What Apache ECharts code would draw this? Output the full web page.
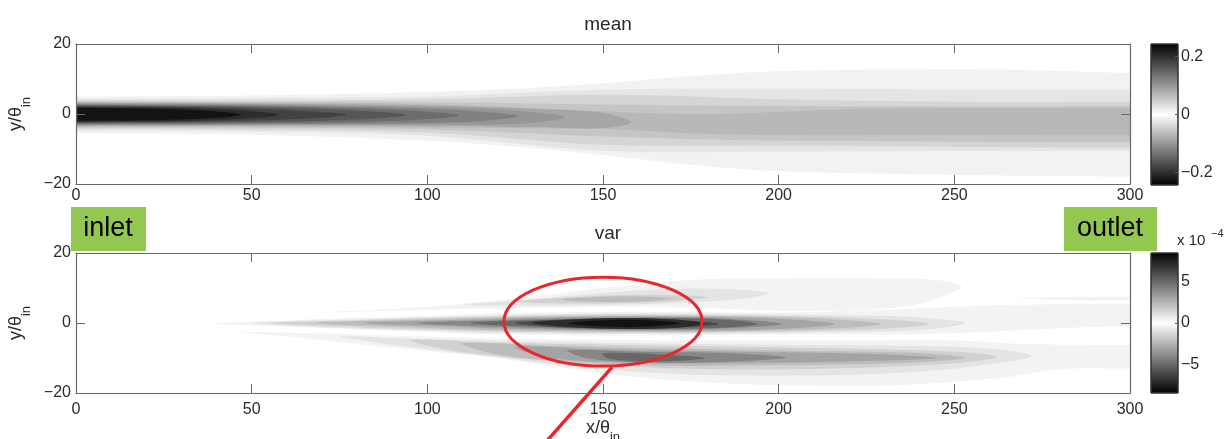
<!DOCTYPE html>
<html>
<head>
<meta charset="utf-8">
<script src="https://cdn.jsdelivr.net/npm/echarts@6/dist/echarts.min.js"></script>
<style>
  html, body { margin: 0; padding: 0; background: #ffffff; }
  #chart { width: 1226px; height: 439px; }
</style>
</head>
<body>
<div id="chart"></div>
<script>
// Filled contours: each band is a contour level and the closed contour line
// (points in x/theta_in, y/theta_in) that bounds the region at or above it.

// Mean field levels, lowest first
const meanLevels = [0.012, 0.025, 0.04, 0.055, 0.068, 0.085, 0.10, 0.12, 0.14, 0.16, 0.18, 0.20, 0.225];
const meanContours = [
  [[-6, 5.0], [0, 5.0], [50, 5.3], [100, 6.3], [130, 7.5], [150, 8.8], [175, 10.8], [200, 12.2], [250, 12.8], [280, 12.3], [300, 11.7], [306, 11.6],
   [306, -17.9], [300, -17.9], [250, -17.4], [200, -16.3], [175, -14.5], [150, -11.7], [130, -9.8], [100, -7.6], [50, -5.9], [0, -5.4], [-6, -5.4]],
  [[-6, 4.3], [0, 4.3], [50, 4.5], [100, 5.0], [150, 6.9], [200, 7.3], [250, 7.0], [300, 6.9], [306, 6.9],
   [306, -10.5], [300, -10.5], [250, -10.6], [200, -10.8], [150, -10.5], [100, -6.2], [50, -5.0], [0, -4.7], [-6, -4.7]],
  [[-6, 3.9], [0, 3.9], [50, 3.9], [100, 4.2], [150, 5.5], [200, 4.2], [250, 3.5], [300, 3.5], [306, 3.5],
   [306, -9.6], [300, -9.6], [250, -9.4], [200, -9.0], [150, -8.8], [100, -5.3], [50, -4.4], [0, -4.2], [-6, -4.2]],
  [[-6, 3.6], [0, 3.6], [50, 3.5], [100, 3.4], [150, 2.7], [200, 2.3], [250, 2.2], [300, 2.3], [306, 2.3],
   [306, -8.0], [300, -8.0], [250, -7.9], [200, -7.6], [150, -6.4], [100, -4.4], [50, -3.9], [0, -3.9], [-6, -3.9]],
  [[-6, 3.4], [0, 3.4], [50, 3.2], [100, 2.8], [150, 0.8], [175, 0.0], [200, 0.6], [225, 1.5], [300, 1.7], [306, 1.7],
   [306, -6.1], [300, -6.1], [250, -6.0], [200, -6.0], [175, -5.5], [150, -4.3], [100, -3.9], [50, -3.6], [0, -3.6], [-6, -3.6]],
  [[-6, 3.2], [0, 3.2], [50, 3.0], [100, 2.4], [130, 1.5], [150, 0.3], [158, -2.3], [150, -4.0], [130, -3.7], [100, -3.4], [50, -3.3], [0, -3.4], [-6, -3.4]],
  [[-6, 3.0], [0, 3.0], [50, 2.8], [100, 2.0], [125, 1.0], [139, -0.9], [125, -2.8], [100, -3.0], [50, -3.1], [0, -3.2], [-6, -3.2]],
  [[-6, 2.8], [0, 2.8], [50, 2.5], [100, 1.5], [116, 0.6], [126, -0.6], [116, -2.0], [100, -2.6], [50, -2.9], [0, -3.0], [-6, -3.0]],
  [[-6, 2.6], [0, 2.6], [50, 2.2], [90, 1.2], [109, -0.4], [90, -2.0], [50, -2.6], [0, -2.8], [-6, -2.8]],
  [[-6, 2.4], [0, 2.4], [50, 1.9], [80, 0.9], [94, -0.3], [80, -1.6], [50, -2.3], [0, -2.6], [-6, -2.6]],
  [[-6, 2.2], [0, 2.2], [40, 1.8], [66, 0.8], [77, -0.2], [66, -1.3], [40, -2.1], [0, -2.4], [-6, -2.4]],
  [[-6, 2.0], [0, 2.0], [30, 1.7], [50, 0.8], [58, -0.2], [50, -1.2], [30, -2.0], [0, -2.2], [-6, -2.2]],
  [[-6, 1.7], [0, 1.7], [25, 1.4], [40, 0.7], [47, -0.2], [40, -1.1], [25, -1.7], [0, -1.9], [-6, -1.9]]
];

// Variance field levels (units of 1e-4), lowest first
const varLevels = [0.4, 0.4, 0.4, 0.4, 0.9, 0.9, 0.9, 1.5, 1.5, 1.5, 2.2, 2.2, 2.2,
                   3.0, 3.0, 4.0, 4.0, 5.0, 5.0, 6.0, 7.0, 7.8];
const varContours = [
  // centreline streak, upper lobe, lower lobe, outlet streak (0.4)
  [[39, -0.2], [60, 0.7], [80, 1.5], [100, 2.1], [120, 2.8], [140, 3.1], [170, 3.2], [200, 3.0], [230, 3.8], [260, 5.0], [285, 5.4], [300, 5.5], [306, 5.5],
   [306, -1.0], [300, -1.0], [285, -1.3], [260, -2.5], [240, -3.2], [210, -3.3], [180, -3.5], [150, -3.6], [120, -3.3], [100, -2.6], [80, -1.8], [60, -1.0]],
  [[68, 3.0], [90, 4.0], [110, 5.5], [130, 7.5], [150, 10.0], [175, 12.3], [200, 12.8], [230, 12.8], [245, 12.3], [252, 10.5],
   [248, 8.0], [238, 5.0], [220, 3.6], [195, 3.6], [175, 4.5], [150, 4.6], [120, 4.2], [100, 3.8], [80, 3.2]],
  [[47, -2.6], [70, -3.0], [100, -3.9], [130, -4.6], [160, -4.9], [190, -5.0], [220, -5.0], [250, -5.0], [270, -6.0], [300, -6.3], [306, -6.3],
   [306, -13.0], [300, -13.0], [280, -13.2], [265, -15.5], [250, -16.8], [230, -17.9], [200, -17.8], [180, -17.0], [160, -15.5], [140, -13.0],
   [120, -10.0], [100, -8.0], [80, -6.0], [60, -3.8]],
  [[268, 7.0], [285, 7.4], [300, 7.4], [306, 7.4], [306, 6.4], [300, 6.4], [285, 6.5]],
  // 0.9
  [[50, 0.0], [70, 0.8], [100, 1.6], [130, 2.4], [160, 2.7], [190, 2.6], [220, 2.2], [240, 1.6], [253, 0.0],
   [240, -2.0], [210, -2.7], [180, -3.0], [150, -3.1], [120, -2.8], [100, -2.2], [70, -1.2]],
  [[110, 5.2], [130, 6.8], [150, 8.6], [170, 9.8], [188, 9.6], [197, 8.5], [190, 7.0], [175, 5.9], [155, 5.2], [130, 5.0]],
  [[75, -3.8], [100, -4.6], [130, -5.3], [160, -5.8], [200, -6.2], [240, -6.6], [262, -7.5], [272, -9.5], [262, -11.5],
   [245, -13.5], [220, -14.8], [190, -15.0], [165, -14.3], [140, -12.3], [120, -9.8], [100, -7.5], [85, -5.5]],
  // 1.5
  [[55, 0.0], [80, 0.8], [120, 1.9], [150, 2.4], [180, 2.3], [210, 1.8], [232, 0.9], [243, -0.3],
   [232, -1.5], [210, -2.3], [180, -2.7], [150, -2.8], [120, -2.4], [80, -1.2]],
  [[125, 6.2], [145, 7.6], [165, 8.1], [180, 7.4], [170, 6.2], [150, 5.6], [132, 5.7]],
  [[95, -4.8], [120, -5.6], [150, -6.2], [190, -6.8], [230, -7.6], [255, -8.5], [262, -9.8], [250, -11.5],
   [215, -13.0], [180, -13.2], [150, -12.0], [125, -10.0], [105, -7.5]],
  // 2.2
  [[68, 0.0], [100, 1.0], [130, 1.8], [160, 2.1], [190, 1.9], [215, 1.1], [229, -0.3],
   [215, -1.6], [190, -2.3], [160, -2.5], [130, -2.2], [100, -1.4]],
  [[138, 6.8], [155, 7.6], [170, 7.1], [158, 6.1], [142, 6.2]],
  [[110, -5.8], [135, -6.5], [170, -7.3], [210, -8.0], [240, -8.6], [253, -10.0], [235, -11.4], [200, -12.0],
   [170, -12.2], [140, -11.0], [120, -9.0]],
  // 3.0
  [[82, 0.0], [110, 0.9], [140, 1.7], [170, 1.8], [200, 1.2], [216, -0.3], [200, -1.7], [170, -2.2], [140, -2.0], [110, -1.2]],
  [[125, -6.8], [150, -7.5], [190, -8.2], [225, -8.8], [245, -10.0], [220, -11.0], [190, -11.4], [160, -11.4], [135, -10.0]],
  // 4.0
  [[97, 0.0], [120, 0.8], [150, 1.5], [180, 1.4], [201, -0.3], [180, -1.7], [150, -1.9], [120, -1.1]],
  [[140, -7.8], [160, -8.2], [185, -8.6], [202, -9.9], [180, -11.2], [160, -11.2], [145, -10.0]],
  // 5.0
  [[112, 0.0], [135, 0.9], [160, 1.4], [185, 0.9], [194, -0.3], [185, -1.3], [160, -1.7], [135, -1.2]],
  [[150, -8.7], [165, -8.9], [179, -10.0], [165, -11.0], [152, -10.3]],
  // 6.0, 7.0, 7.8
  [[125, 0.0], [140, 1.0], [165, 1.2], [183, -0.3], [165, -1.5], [140, -1.3]],
  [[130, 0.0], [150, 1.3], [170, 1.0], [179, -0.2], [170, -1.4], [150, -1.6]],
  [[140, -0.1], [157, 0.9], [172, -0.1], [157, -1.2]]
];

// Colour scale limits and colour-bar tick labels
const meanRange = [-0.243, 0.243];
const varRange = [-8.4, 8.4];
const meanBarTicks = [-0.2, 0, 0.2];
const varBarTicks = [-5, 0, 5];
const greyRamp = ['#000000', '#ffffff', '#000000'];

// Highlighted region in the variance panel (axis units)
const highlightCenter = [150, 0.4];
const highlightRadius = [28.2, 12.7];
const pointerLine = [[152.6, -12.6], [128.5, -40]];

const FONT = 'Liberation Sans, Arial, Helvetica, sans-serif';
const FRAME = '#6a6a6a';
const TEXT = '#2a2a2a';

function bandItems(levels) {
  return levels.map((lv, i) => [lv, i]);
}

function contourRenderer(contours) {
  return function (params, api) {
    const ring = contours[api.value(1)];
    const cs = params.coordSys;
    return {
      type: 'group',
      clipPath: { type: 'rect', shape: { x: cs.x, y: cs.y, width: cs.width, height: cs.height } },
      children: [{
        type: 'polygon',
        shape: { points: ring.map(p => api.coord(p)), smooth: 0.35 },
        style: { fill: api.visual('color'), stroke: null }
      }]
    };
  };
}

function renderBar(params, api) {
  const hi = api.coord([0, api.value(2)]);
  const lo = api.coord([0, api.value(1)]);
  const cs = params.coordSys;
  return {
    type: 'rect',
    shape: { x: cs.x, y: hi[1], width: cs.width, height: lo[1] - hi[1] },
    style: {
      fill: new echarts.graphic.LinearGradient(0, 0, 0, 1,
        greyRamp.map((c, i) => ({ offset: i / (greyRamp.length - 1), color: c }))),
      stroke: '#333', lineWidth: 1
    }
  };
}

const minus = v => String(v).replace('-', '\u2212');

// Axis titles with a subscript: main glyphs pinned to the top of a taller line
const nameRich = {
  a: { fontSize: 18, lineHeight: 18, verticalAlign: 'top', fontFamily: FONT, color: TEXT },
  s: { fontSize: 13, lineHeight: 38, fontFamily: FONT, color: TEXT }
};

function mainAxes(gridIndex, showXName) {
  const tickStyle = { show: true, inside: true, length: 9, lineStyle: { color: FRAME } };
  const lineStyle = { show: true, onZero: false, lineStyle: { color: FRAME, width: 1.2 } };
  const x = [
    {
      type: 'value', gridIndex, min: 0, max: 300, interval: 50, position: 'bottom', z: 10,
      axisLine: lineStyle, axisTick: tickStyle, splitLine: { show: false },
      axisLabel: { fontSize: 16, fontFamily: FONT, color: TEXT, margin: gridIndex === 0 ? 4 : 9 },
      name: showXName ? '{a|x/\u03b8}{s|in}' : '', nameLocation: 'middle', nameGap: 20,
      nameTextStyle: { rich: nameRich }
    },
    {
      type: 'value', gridIndex, min: 0, max: 300, interval: 50, position: 'top', z: 10,
      axisLine: lineStyle, axisTick: tickStyle, splitLine: { show: false }, axisLabel: { show: false }
    }
  ];
  const y = [
    {
      type: 'value', gridIndex, min: -20, max: 20, interval: 20, position: 'left', z: 10,
      axisLine: lineStyle, axisTick: tickStyle, splitLine: { show: false },
      axisLabel: { fontSize: 16, fontFamily: FONT, color: TEXT, margin: 5, formatter: minus },
      name: '{a|y/\u03b8}{s|in}', nameLocation: 'middle', nameRotate: 90, nameGap: 27,
      nameTextStyle: { rich: nameRich }
    },
    {
      type: 'value', gridIndex, min: -20, max: 20, interval: 20, position: 'right', z: 10,
      axisLine: lineStyle, axisTick: tickStyle, splitLine: { show: false }, axisLabel: { show: false }
    }
  ];
  return { x, y };
}

function barAxes(gridIndex, range, ticks) {
  return {
    x: { type: 'value', gridIndex, min: 0, max: 1, show: false },
    y: {
      type: 'value', gridIndex, min: range[0], max: range[1], position: 'right', z: 10,
      axisLine: { show: false, onZero: false }, splitLine: { show: false },
      axisTick: { show: true, inside: true, length: 3, customValues: ticks, lineStyle: { color: '#555' } },
      axisLabel: { fontSize: 16, fontFamily: FONT, color: TEXT, margin: 3, customValues: ticks, formatter: minus }
    }
  };
}

const meanAxes = mainAxes(0, false);
const varAxes = mainAxes(1, true);
const meanBarAxes = barAxes(2, meanRange, meanBarTicks);
const varBarAxes = barAxes(3, varRange, varBarTicks);

const chart = echarts.init(document.getElementById('chart'), null, { renderer: 'canvas' });

const gridBase = { containLabel: false, outerBoundsMode: 'none' };

chart.setOption({
  animation: false,
  backgroundColor: '#ffffff',
  textStyle: { fontFamily: FONT },
  title: [
    { text: 'mean', left: 603, top: 10, textAlign: 'center',
      textStyle: { fontSize: 19, fontWeight: 'normal', color: TEXT, fontFamily: FONT } },
    { text: 'var', left: 603, top: 219, textAlign: 'center',
      textStyle: { fontSize: 19, fontWeight: 'normal', color: TEXT, fontFamily: FONT } }
  ],
  grid: [
    Object.assign({ left: 76, top: 44, width: 1054, height: 140 }, gridBase),
    Object.assign({ left: 76, top: 253, width: 1054, height: 140 }, gridBase),
    Object.assign({ left: 1151, top: 44, width: 27, height: 141 }, gridBase),
    Object.assign({ left: 1151, top: 253, width: 27, height: 140 }, gridBase)
  ],
  xAxis: [meanAxes.x[0], meanAxes.x[1], varAxes.x[0], varAxes.x[1], meanBarAxes.x, varBarAxes.x],
  yAxis: [meanAxes.y[0], meanAxes.y[1], varAxes.y[0], varAxes.y[1], meanBarAxes.y, varBarAxes.y],
  visualMap: [
    { type: 'continuous', show: false, seriesIndex: 0, dimension: 0,
      min: meanRange[0], max: meanRange[1], inRange: { color: greyRamp } },
    { type: 'continuous', show: false, seriesIndex: 1, dimension: 0,
      min: varRange[0], max: varRange[1], inRange: { color: greyRamp } }
  ],
  series: [
    { type: 'custom', name: 'mean', xAxisIndex: 0, yAxisIndex: 0, clip: true, silent: true,
      renderItem: contourRenderer(meanContours), data: bandItems(meanLevels),
      encode: { x: -1, y: -1 } },
    { type: 'custom', name: 'var', xAxisIndex: 2, yAxisIndex: 2, clip: true, silent: true,
      renderItem: contourRenderer(varContours), data: bandItems(varLevels),
      encode: { x: -1, y: -1 } },
    { type: 'custom', name: 'meanBar', xAxisIndex: 4, yAxisIndex: 4, renderItem: renderBar,
      data: [[0, meanRange[0], meanRange[1]]], silent: true },
    { type: 'custom', name: 'varBar', xAxisIndex: 5, yAxisIndex: 5, renderItem: renderBar,
      data: [[0, varRange[0], varRange[1]]], silent: true }
  ],
  graphic: [
    { id: 'inletBox', type: 'rect', left: 71, top: 207, shape: { width: 75, height: 44 }, style: { fill: '#92c750' }, z: 20 },
    { id: 'inletText', type: 'text', x: 108, y: 229, z: 21,
      style: { text: 'inlet', fontSize: 27, fontFamily: FONT, fill: '#000', align: 'center', verticalAlign: 'middle' } },
    { id: 'outletBox', type: 'rect', left: 1064, top: 207, shape: { width: 93, height: 44 }, style: { fill: '#92c750' }, z: 20 },
    { id: 'outletText', type: 'text', x: 1110, y: 229, z: 21,
      style: { text: 'outlet', fontSize: 27, fontFamily: FONT, fill: '#000', align: 'center', verticalAlign: 'middle' } },
    { id: 'scaleText', type: 'text', x: 1177, y: 248, z: 21,
      style: { text: 'x 10', fontSize: 15, fontFamily: FONT, fill: TEXT, align: 'left', verticalAlign: 'bottom' } },
    { id: 'scaleExp', type: 'text', x: 1211, y: 239, z: 21,
      style: { text: '\u22124', fontSize: 11, fontFamily: FONT, fill: TEXT, align: 'left', verticalAlign: 'bottom' } }
  ]
});

// Callout on the variance panel, placed in axis units
const finder = { xAxisIndex: 2, yAxisIndex: 2 };
const c = chart.convertToPixel(finder, highlightCenter);
const e = chart.convertToPixel(finder, [highlightCenter[0] + highlightRadius[0], highlightCenter[1] + highlightRadius[1]]);
const p0 = chart.convertToPixel(finder, pointerLine[0]);
const p1 = chart.convertToPixel(finder, pointerLine[1]);
chart.setOption({
  graphic: [
    { id: 'calloutRing', type: 'ellipse', z: 30,
      shape: { cx: c[0], cy: c[1], rx: Math.abs(e[0] - c[0]), ry: Math.abs(e[1] - c[1]) },
      style: { fill: null, stroke: '#e8262b', lineWidth: 3 } },
    { id: 'calloutPointer', type: 'line', z: 30, shape: { x1: p0[0], y1: p0[1], x2: p1[0], y2: p1[1] },
      style: { stroke: '#e8262b', lineWidth: 3.5 } }
  ]
});
</script>
</body>
</html>
